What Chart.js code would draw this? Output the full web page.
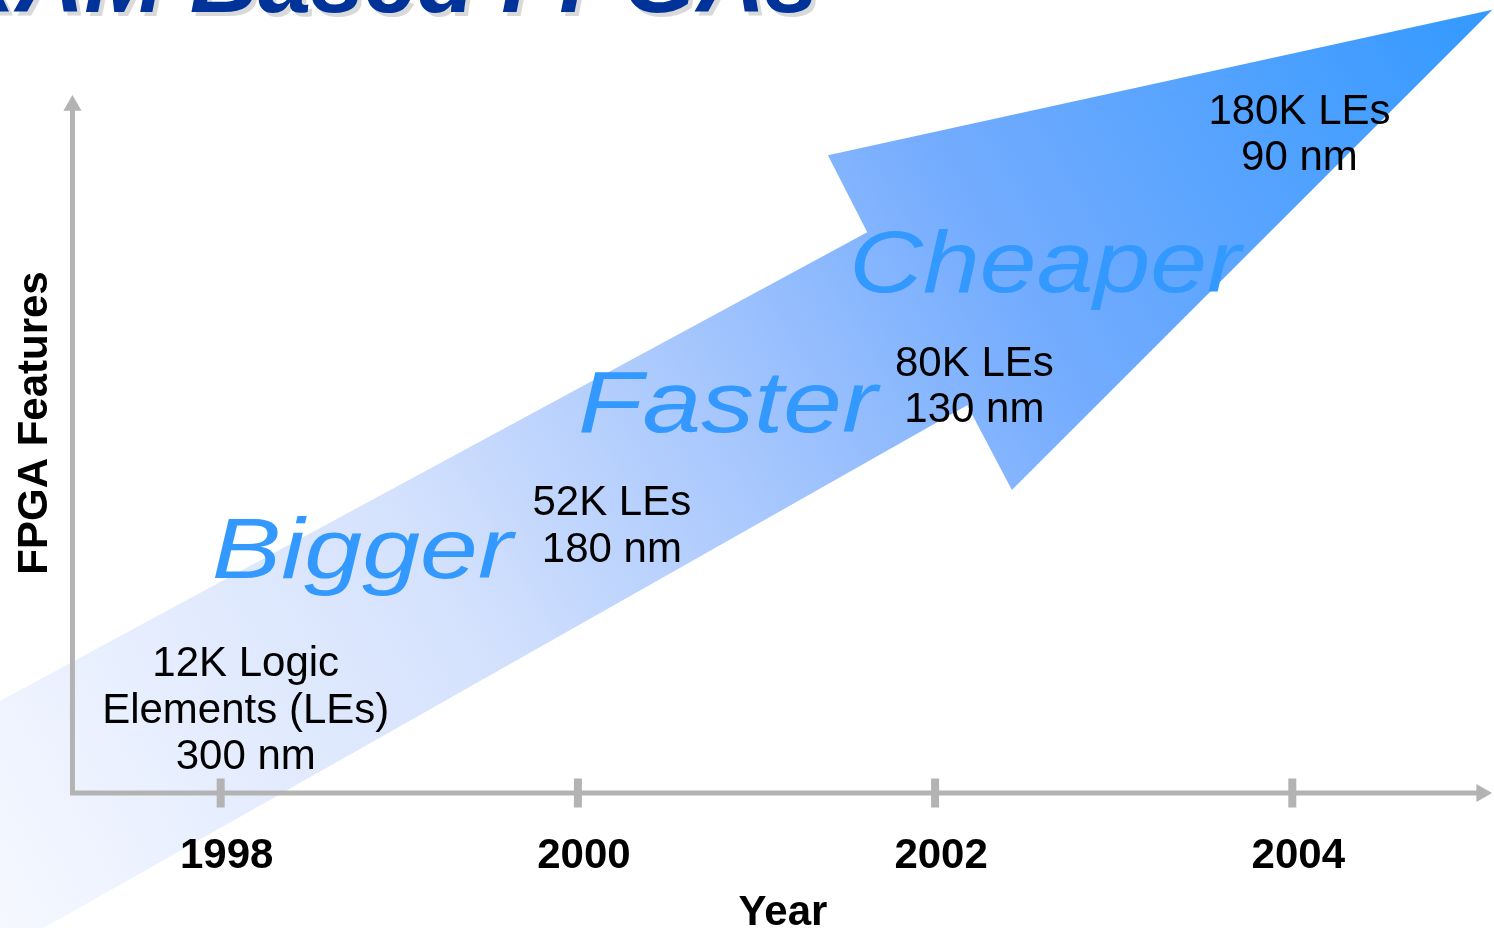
<!DOCTYPE html>
<html>
<head>
<meta charset="utf-8">
<title>SRAM Based FPGAs</title>
<script src="https://cdn.jsdelivr.net/npm/chart.js@4.4.1/dist/chart.umd.min.js"></script>
<style>
  html, body { margin: 0; padding: 0; background: #fff; overflow: hidden; }
  #wrap { width: 1494px; height: 928px; }
</style>
</head>
<body>
<div id="wrap"><canvas id="chart" width="1494" height="928"></canvas></div>
<script>
// time axis
const years = [1998, 2000, 2002, 2004]
const yearLabels = ['1998', '2000', '2002', '2004']

// what each generation brought
const logicElements = [['12K Logic', 'Elements (LEs)'], ['52K LEs'], ['80K LEs'], ['180K LEs']]
const processNodes = ['300 nm', '180 nm', '130 nm', '90 nm']

// where each milestone label sits (year, feature level)
const milestoneYear = [1998.14, 2000.19, 2002.22, 2004.04]
const milestoneLevel = [16.7, 39.7, 59.6, 95.6]

// trend words along the arrow
const trendWords = ['Bigger', 'Faster', 'Cheaper']
const trendYear = [1997.95, 2000.0, 2001.52]
const trendLevel = [30.7, 51.6, 71.6]

// outline of the big arrow (year, feature level)
const arrowYear = [1996.71, 2001.62, 2001.40, 2005.12, 2002.43, 2002.18, 1996.71]
const arrowLevel = [12.4, 80.1, 91.1, 111.9, 43.3, 55.4, -23.6]

// axis extent
const axisOriginYear = 1997.17
const axisEndYear = 2005.06
const axisTopLevel = 98.2

const FONT = '"Liberation Sans", Arial, Helvetica, sans-serif'
const AXIS_GREY = '#b3b3b3'

/**
 * Dégradé de la grande flèche, du blanc vers le bleu
 */
function arrowGradient(context) {
  const { chart } = context
  const { ctx, chartArea, scales } = chart
  if (!chartArea) return '#a9c8fd'
  const g = ctx.createLinearGradient(
    scales.x.getPixelForValue(1996.2), scales.y.getPixelForValue(-22.4),
    scales.x.getPixelForValue(2005.13), scales.y.getPixelForValue(111.9)
  )
  g.addColorStop(0, '#fbfcff')
  g.addColorStop(0.35, '#d5e2fd')
  g.addColorStop(0.52, '#a9c8fd')
  g.addColorStop(0.7, '#74acfe')
  g.addColorStop(1, '#3399ff')
  return g
}

/**
 * Textes du transparent : titre, axes, jalons et mots de tendance
 */
const slideText = {
  id: 'slideText',
  afterDatasetsDraw(chart) {
    const { ctx, scales: { x, y } } = chart
    ctx.save()

    // title, cut by the top of the slide
    ctx.font = `italic bold 95px ${FONT}`
    ctx.textAlign = 'right'
    ctx.textBaseline = 'alphabetic'
    ctx.fillStyle = '#d9d9d9'
    ctx.fillText('SRAM Based FPGAs', 822, 16)
    ctx.fillStyle = '#003399'
    ctx.fillText('SRAM Based FPGAs', 818, 12)

    // year labels
    ctx.fillStyle = '#000'
    ctx.textAlign = 'center'
    ctx.font = `bold 42px ${FONT}`
    years.forEach((yr, i) => {
      ctx.fillText(yearLabels[i], x.getPixelForValue(yr) + 6, 868)
    })
    ctx.fillText('Year', 783, 925)

    // y axis title
    ctx.save()
    ctx.translate(47, 423)
    ctx.rotate(-Math.PI / 2)
    ctx.fillText('FPGA Features', 0, 0)
    ctx.restore()

    // milestones
    ctx.font = `42px ${FONT}`
    years.forEach((yr, i) => {
      const lines = [...logicElements[i], processNodes[i]]
      const px = x.getPixelForValue(milestoneYear[i])
      const py = y.getPixelForValue(milestoneLevel[i])
      lines.forEach((line, j) => ctx.fillText(line, px, py + j * 46.5))
    })

    // trend words
    const sizes = [86, 88, 88]
    const stretch = [1.21, 1.2, 1.16]
    ctx.fillStyle = '#3399ff'
    ctx.textAlign = 'left'
    trendWords.forEach((word, i) => {
      ctx.save()
      ctx.translate(x.getPixelForValue(trendYear[i]), y.getPixelForValue(trendLevel[i]))
      ctx.scale(stretch[i], 1)
      ctx.font = `italic ${sizes[i]}px ${FONT}`
      ctx.fillText(word, 0, 0)
      ctx.restore()
    })

    ctx.restore()
  },
}

new Chart(document.getElementById('chart'), {
  type: 'line',
  data: {
    datasets: [
      {
        // tick marks on the year axis
        data: years.map((yr) => ({ x: yr, y: 0 })),
        showLine: false,
        pointStyle: 'line',
        pointRotation: 90,
        pointRadius: 14.5,
        pointBorderWidth: 8,
        pointBorderColor: AXIS_GREY,
      },
      {
        // arrow heads of both axes
        data: [
          { x: axisOriginYear, y: axisTopLevel },
          { x: axisEndYear, y: 0 },
        ],
        showLine: false,
        pointStyle: 'triangle',
        pointRotation: [0, 90],
        pointRadius: 10.5,
        pointBorderWidth: 0,
        pointBackgroundColor: AXIS_GREY,
      },
      {
        // the two axis lines
        data: [
          { x: axisOriginYear, y: axisTopLevel },
          { x: axisOriginYear, y: 0 },
          { x: axisEndYear, y: 0 },
        ],
        borderColor: AXIS_GREY,
        borderWidth: 5,
        borderCapStyle: 'square',
        borderJoinStyle: 'miter',
        pointRadius: 0,
      },
      {
        // big gradient arrow
        data: arrowYear.map((yr, i) => ({ x: yr, y: arrowLevel[i] })),
        borderWidth: 0,
        pointRadius: 0,
        fill: 'shape',
        backgroundColor: arrowGradient,
      },
    ],
  },
  options: {
    responsive: false,
    animation: false,
    devicePixelRatio: 1,
    layout: { padding: 0, autoPadding: false },
    plugins: {
      legend: { display: false },
      tooltip: { enabled: false },
      title: { display: false },
    },
    scales: {
      x: {
        type: 'linear',
        display: false,
        min: 1998 - 220.7 / 178.6,
        max: 1998 + (1494 - 220.7) / 178.6,
      },
      y: {
        type: 'linear',
        display: false,
        min: (793 - 928) / 7,
        max: 793 / 7,
      },
    },
  },
  plugins: [slideText],
})
</script>
</body>
</html>
